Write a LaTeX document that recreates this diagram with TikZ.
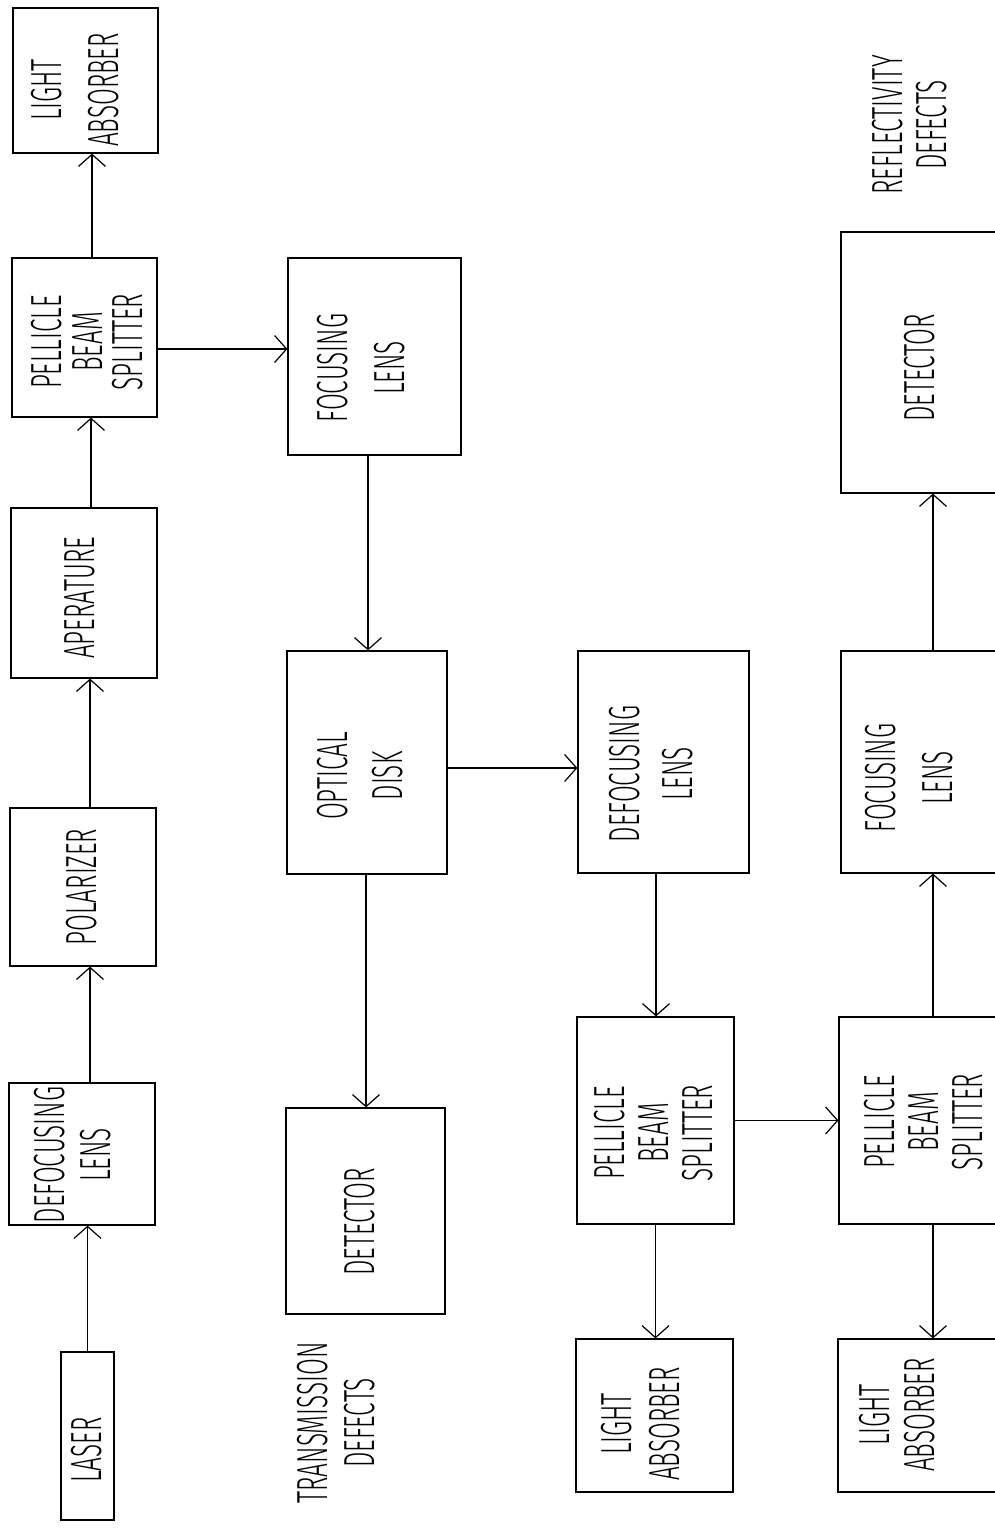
\documentclass[tikz,border=0pt]{standalone}
\usepackage{fontspec}
\newfontfamily\labfont{Fira Sans Light}[FakeStretch=0.56]
\usetikzlibrary{arrows.meta}
\newcommand{\lsp}[1]{\fontsize{43.5pt}{#1pt}\selectfont}
\begin{document}
\begin{tikzpicture}[x=1pt,y=-1pt,
  box/.style={draw, line width=1.2pt, inner sep=0pt, anchor=center},
  txt/.style={rotate=90, align=center, inner sep=0pt, anchor=center},
  arr/.style={line width=1.2pt, -{Straight Barb[length=12pt,width=27pt]}}]
\useasboundingbox (0,0) rectangle (995,1533);
\clip (0,0) rectangle (995,1533);
% boxes
\node[box, minimum width=53pt,  minimum height=168pt] (laser) at (87.5,1436) {};
\node[box, minimum width=146pt, minimum height=142pt] (dl1)   at (82,1154) {};
\node[box, minimum width=146pt, minimum height=158pt] (pol)   at (83,887) {};
\node[box, minimum width=146pt, minimum height=170pt] (ape)   at (84,593) {};
\node[box, minimum width=145pt, minimum height=159pt] (pbs1)  at (84.5,337.5) {};
\node[box, minimum width=145pt, minimum height=145pt] (la1)   at (85.5,80.5) {};
\node[box, minimum width=173pt, minimum height=197pt] (fl2)   at (374.5,356.5) {};
\node[box, minimum width=160pt, minimum height=223pt] (od)    at (367,762.5) {};
\node[box, minimum width=159pt, minimum height=206pt] (det2)  at (365.5,1211) {};
\node[box, minimum width=171pt, minimum height=222pt] (dl3)   at (663.5,762) {};
\node[box, minimum width=157pt, minimum height=207pt] (pbs3)  at (655.5,1120.5) {};
\node[box, minimum width=157pt, minimum height=153pt] (la3)   at (654.5,1415.5) {};
\node[box, minimum width=184pt, minimum height=261pt] (det4)  at (933,362.5) {};
\node[box, minimum width=184pt, minimum height=222pt] (fl4)   at (933,762) {};
\node[box, minimum width=188pt, minimum height=207pt] (pbs4)  at (933,1120.5) {};
\node[box, minimum width=190pt, minimum height=153pt] (la4)   at (933,1415.5) {};
% texts
\node[txt, font={\labfont\lsp{46}}] (tlaser) at (87,1450) {LASER};
\node[txt, font={\labfont\lsp{46}}] (tdl1) at (73,1155) {DEFOCUSING\\LENS};
\node[txt, font={\labfont\lsp{46}}] (tpol) at (82,887) {POLARIZER};
\node[txt, font={\labfont\lsp{46}}] (tape) at (80,598) {APERATURE};
\node[txt, font={\labfont\lsp{40.5}}] (tpbs1) at (87.5,342) {PELLICLE\\BEAM\\SPLITTER};
\node[txt, font={\labfont\lsp{57}}] (tla1) at (75,90) {LIGHT\\ABSORBER};
\node[txt, font={\labfont\lsp{57.5}}] (tfl2) at (361,368) {FOCUSING\\LENS};
\node[txt, font={\labfont\lsp{55.5}}] (tod) at (360,776) {OPTICAL\\DISK};
\node[txt, font={\labfont\lsp{46}}] (tdet2) at (360,1222) {DETECTOR};
\node[txt, font={\labfont\lsp{47}}] (ttrans) at (336.5,1423) {TRANSMISSION\\DEFECTS};
\node[txt, font={\labfont\lsp{52.5}}] (tdl3) at (651,774) {DEFOCUSING\\LENS};
\node[txt, font={\labfont\lsp{44}}] (tpbs3) at (653.5,1133) {PELLICLE\\BEAM\\SPLITTER};
\node[txt, font={\labfont\lsp{47.5}}] (tla3) at (640.5,1424) {LIGHT\\ABSORBER};
\node[txt, font={\labfont\lsp{46}}] (tdet4) at (920,368) {DETECTOR};
\node[txt, font={\labfont\lsp{56.5}}] (tfl4) at (909,778) {FOCUSING\\LENS};
\node[txt, font={\labfont\lsp{44}}] (tpbs4) at (924,1122) {PELLICLE\\BEAM\\SPLITTER};
\node[txt, font={\labfont\lsp{45}}] (tla4) at (897.5,1415) {LIGHT\\ABSORBER};
\node[txt, font={\labfont\lsp{44.5}}] (trefl) at (909.5,125) {REFLECTIVITY\\DEFECTS};
% connectors
\draw[arr] (laser.north) -- (laser.north |- dl1.south);
\draw[arr] ([xshift=8pt]dl1.north) -- ([xshift=8pt]dl1.north |- pol.south);
\draw[arr] ([xshift=7pt]pol.north) -- ([xshift=7pt]pol.north |- ape.south);
\draw[arr] ([xshift=7pt]ape.north) -- ([xshift=7pt]ape.north |- pbs1.south);
\draw[arr] ([xshift=7.5pt]pbs1.north) -- ([xshift=7.5pt]pbs1.north |- la1.south);
\draw[arr] ([yshift=-11.5pt]pbs1.east) -- ([yshift=-11.5pt]pbs1.east -| fl2.west);
\draw[arr] ([xshift=-6.5pt]fl2.south) -- ([xshift=-6.5pt]fl2.south |- od.north);
\draw[arr] ([xshift=-1pt]od.south) -- ([xshift=-1pt]od.south |- det2.north);
\draw[arr] ([yshift=-5.5pt]od.east) -- ([yshift=-5.5pt]od.east -| dl3.west);
\draw[arr] ([xshift=-7.5pt]dl3.south) -- ([xshift=-7.5pt]dl3.south |- pbs3.north);
\draw[arr] (pbs3.south) -- (pbs3.south |- la3.north);
\draw[arr] (pbs3.east) -- (pbs3.east -| pbs4.west);
\draw[arr] (pbs4.south) -- (pbs4.south |- la4.north);
\draw[arr] (pbs4.north) -- (pbs4.north |- fl4.south);
\draw[arr] (fl4.north) -- (fl4.north |- det4.south);
\end{tikzpicture}
\end{document}
